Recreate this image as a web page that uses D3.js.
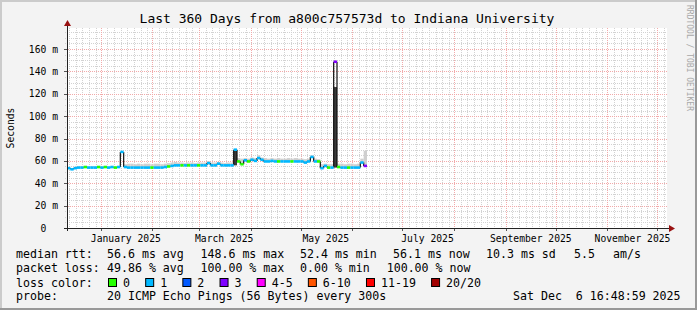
<!DOCTYPE html>
<html>
<head>
<meta charset="utf-8">
<script src="https://cdn.jsdelivr.net/npm/d3@7"></script>
<style>
    body { margin: 0; background: #f3f3f3; }
    svg text { font-family: "DejaVu Sans Mono", monospace; white-space: pre; }
</style>
</head>
<body>
<div id="chart"></div>
<script>
// Time range of the graph (UTC)
const startDate = new Date(Date.UTC(2024, 11, 11, 16, 48, 59));
const endDate = new Date(Date.UTC(2025, 11, 6, 16, 48, 59));
const stepDays = 2;

// Median rtt per 2-day step (ms)
const median = [
    53.5, 52.5, 53.5, 54, 54, 54.5, 54, 54, 54, 54.5,
    54, 54.5, 54, 54.5, 54, 54.5, 68, 54.5, 54, 54,
    54, 54, 54, 54, 54, 54, 54, 54, 54, 54.5,
    55, 55.5, 56, 56, 56, 56, 56, 56, 56, 56,
    56, 56, 58, 56, 56, 57.5, 56, 56, 56, 56,
    70, 59.5, 57, 60.5, 59.5, 61, 60, 62.5, 61, 59.5,
    59.5, 60, 59.5, 59.5, 59.5, 59.5, 59.5, 59.5, 59.5, 59.5,
    59.5, 58.5, 59.5, 63.5, 59.5, 59.5, 53.5, 55.5, 54, 54,
    148.6, 54.5, 54, 54, 54, 54, 54, 54, 58.5, 55.5
];

// Loss bucket per step (index into lossLabels)
const loss = [
    1, 1, 1, 1, 1, 0, 1, 1, 1, 0,
    1, 0, 1, 1, 0, 1, 1, 1, 1, 1,
    1, 1, 1, 1, 1, 0, 1, 1, 1, 1,
    0, 1, 1, 1, 0, 1, 0, 1, 1, 0,
    1, 1, 1, 1, 1, 1, 1, 1, 1, 1,
    1, 0, 0, 1, 0, 1, 1, 1, 1, 1,
    1, 1, 1, 0, 1, 1, 1, 0, 1, 1,
    1, 1, 1, 1, 1, 0, 1, 1, 0, 1,
    3, 0, 1, 1, 0, 1, 1, 1, 1, 3
];

// Upper edge of the light smoke (ms)
const smokeHi = [
    54.5, 53.5, 54.5, 55, 55, 55.5, 55, 55, 55, 55.5,
    55, 55.5, 55, 55.5, 55, 55.5, 68, 57, 57.5, 57.5,
    57, 57.5, 57, 57.5, 57.5, 57, 57.5, 57.5, 57, 57.5,
    58, 58.5, 59, 58.5, 58.5, 58, 58.5, 58.5, 58, 58.5,
    58.5, 58.5, 59.5, 58.5, 58.5, 59, 58.5, 58, 58.5, 58.5,
    70, 62.5, 62, 62.5, 62, 63, 62.5, 65, 63, 62.5,
    62, 62.5, 62, 62.5, 62, 62, 62.5, 62, 62.5, 62,
    62, 61.5, 62, 65, 62, 61.5, 57, 57.5, 57, 57,
    148.6, 57.5, 57.5, 57, 57.5, 57.5, 57, 57.5, 62, 69
];

// Dense (dark) smoke under the spikes
const darkIdx = [50, 80];
const darkLo = [56, 54];
const darkHi = [69, 126];

// Legend content
const lossLabels = ["0", "1", "2", "3", "4-5", "6-10", "11-19", "20/20"];
const lossColors = ["#26ff00", "#00b8ff", "#0059ff", "#7e00ff", "#ff00ff", "#ff5500", "#ff0000", "#a10000"];
const rttStats = ["56.6 ms avg", "148.6 ms max", "52.4 ms min", "56.1 ms now", "10.3 ms sd", "5.5", "am/s"];
const lossStats = ["49.86 % avg", "100.00 % max", "0.00 % min", "100.00 % now"];
const yTicks = [0, 20, 40, 60, 80, 100, 120, 140, 160];
const xLabels = ["January 2025", "March 2025", "May 2025", "July 2025", "September 2025", "November 2025"];
const xLabelMonths = [0, 2, 4, 6, 8, 10];

const W = 697, H = 310;
const plot = { left: 67, right: 667, top: 28, bottom: 228 };

const svg = d3.select("#chart").append("svg")
    .attr("width", W)
    .attr("height", H);

// Background + frame
svg.append("rect").attr("width", W).attr("height", H).attr("fill", "#f3f3f3");
svg.append("rect").attr("x", 0).attr("y", 0).attr("width", W).attr("height", 2).attr("fill", "#cbcbcb");
svg.append("rect").attr("x", 0).attr("y", 0).attr("width", 2).attr("height", H).attr("fill", "#cbcbcb");
svg.append("rect").attr("x", 0).attr("y", H - 2).attr("width", W).attr("height", 2).attr("fill", "#999");
svg.append("rect").attr("x", W - 2).attr("y", 0).attr("width", 2).attr("height", H).attr("fill", "#999");

// Scales
const x = d3.scaleUtc().domain([startDate, endDate]).range([plot.left, plot.right]);
const y = d3.scaleLinear().domain([0, 178.8]).range([plot.bottom, plot.top]);

svg.append("rect")
    .attr("x", plot.left).attr("y", plot.top)
    .attr("width", plot.right - plot.left).attr("height", plot.bottom - plot.top)
    .attr("fill", "#fff");

// Grid
const grid = svg.append("g").attr("shape-rendering", "crispEdges");
const minorDays = d3.utcDay.every(4).range(startDate, endDate).filter(d => d.getUTCDate() !== 1);
const months = d3.utcMonth.range(startDate, endDate);
const minorVals = d3.range(5, 178, 5).filter(v => v % 20 !== 0);
const majorVals = yTicks.filter(v => v > 0);

grid.selectAll(".vminor").data(minorDays).enter().append("line")
    .attr("x1", d => Math.round(x(d)) + 0.5).attr("x2", d => Math.round(x(d)) + 0.5)
    .attr("y1", plot.top).attr("y2", plot.bottom + 2)
    .attr("stroke", "#d2d2d2").attr("stroke-dasharray", "1,1");
grid.selectAll(".hminor").data(minorVals).enter().append("line")
    .attr("x1", plot.left - 2).attr("x2", plot.right)
    .attr("y1", d => Math.round(y(d)) + 0.5).attr("y2", d => Math.round(y(d)) + 0.5)
    .attr("stroke", "#d2d2d2").attr("stroke-dasharray", "1,1");
grid.selectAll(".vmajor").data(months).enter().append("line")
    .attr("x1", d => Math.round(x(d)) + 0.5).attr("x2", d => Math.round(x(d)) + 0.5)
    .attr("y1", plot.top).attr("y2", plot.bottom + 3)
    .attr("stroke", "#f2aaaa").attr("stroke-dasharray", "1,1");
grid.selectAll(".hmajor").data(majorVals).enter().append("line")
    .attr("x1", plot.left - 3).attr("x2", plot.right)
    .attr("y1", d => Math.round(y(d)) + 0.5).attr("y2", d => Math.round(y(d)) + 0.5)
    .attr("stroke", "#f2aaaa").attr("stroke-dasharray", "1,1");

// Small ticks outside the plot
grid.selectAll(".xt").data(months).enter().append("line")
    .attr("x1", d => Math.round(x(d)) + 0.5).attr("x2", d => Math.round(x(d)) + 0.5)
    .attr("y1", plot.bottom).attr("y2", plot.bottom + 3)
    .attr("stroke", "#555");
grid.selectAll(".yt").data(majorVals).enter().append("line")
    .attr("x1", plot.left - 3).attr("x2", plot.left)
    .attr("y1", d => Math.round(y(d)) + 0.5).attr("y2", d => Math.round(y(d)) + 0.5)
    .attr("stroke", "#555");

// Data
const times = median.map((_, i) => d3.utcDay.offset(startDate, stepDays * i));
const tEnd = i => d3.utcDay.offset(startDate, stepDays * (i + 1));

// Light smoke
svg.append("g").selectAll("rect").data(median).enter().append("rect")
    .attr("x", (d, i) => x(times[i]))
    .attr("width", (d, i) => x(tEnd(i)) - x(times[i]))
    .attr("y", (d, i) => y(smokeHi[i]))
    .attr("height", (d, i) => Math.max(0, y(d) - y(smokeHi[i])))
    .attr("fill", "#cfcfcf");

// Dark smoke
svg.append("g").selectAll("rect").data(darkIdx).enter().append("rect")
    .attr("x", d => x(times[d]))
    .attr("width", d => x(tEnd(d)) - x(times[d]))
    .attr("y", (d, k) => y(darkHi[k]))
    .attr("height", (d, k) => y(darkLo[k]) - y(darkHi[k]))
    .attr("fill", "#3a3a3a");

// Median step line, coloured by loss
const lineG = svg.append("g");
lineG.selectAll(".vstep").data(median.slice(1)).enter().append("line")
    .attr("x1", (d, i) => x(times[i + 1])).attr("x2", (d, i) => x(times[i + 1]))
    .attr("y1", (d, i) => y(median[i])).attr("y2", d => y(d))
    .attr("stroke", "#111").attr("stroke-width", 1.2);
lineG.selectAll(".hstep").data(median).enter().append("line")
    .attr("x1", (d, i) => x(times[i])).attr("x2", (d, i) => x(tEnd(i)))
    .attr("y1", d => y(d)).attr("y2", d => y(d))
    .attr("stroke", (d, i) => lossColors[loss[i]])
    .attr("stroke-width", 2.6);

// Axes
const axisG = svg.append("g").attr("shape-rendering", "crispEdges");
axisG.append("line")
    .attr("x1", plot.left - 3).attr("x2", plot.right + 4)
    .attr("y1", plot.bottom + 0.5).attr("y2", plot.bottom + 0.5)
    .attr("stroke", "#222");
axisG.append("line")
    .attr("x1", plot.left + 0.5).attr("x2", plot.left + 0.5)
    .attr("y1", plot.bottom + 3).attr("y2", plot.top - 3)
    .attr("stroke", "#222");
svg.append("path")
    .attr("d", `M${plot.right + 2},${plot.bottom - 3} L${plot.right + 8},${plot.bottom + 0.5} L${plot.right + 2},${plot.bottom + 4} Z`)
    .attr("fill", "#991111");
svg.append("path")
    .attr("d", `M${plot.left - 3},${plot.top - 2} L${plot.left + 0.5},${plot.top - 8} L${plot.left + 4},${plot.top - 2} Z`)
    .attr("fill", "#991111");

// Y labels
svg.append("g").selectAll("text").data(yTicks).enter().append("text")
    .attr("x", 58)
    .attr("y", d => y(d) + 3.5)
    .attr("text-anchor", "end")
    .attr("font-size", "9.7px")
    .text(d => d === 0 ? "0  " : `${d} m`);

// X labels, centred half a month after the month start
svg.append("g").selectAll("text").data(xLabels).enter().append("text")
    .attr("x", (d, i) => x(d3.utcDay.offset(new Date(Date.UTC(2025, xLabelMonths[i], 1)), 15)))
    .attr("y", 241.5)
    .attr("text-anchor", "middle")
    .attr("font-size", "9.7px")
    .text(d => d);

// Titles
svg.append("text")
    .attr("x", 347).attr("y", 23)
    .attr("text-anchor", "middle")
    .attr("font-size", "13px")
    .text("Last 360 Days from a800c757573d to Indiana University");

svg.append("text")
    .attr("transform", "translate(14,128) rotate(-90)")
    .attr("text-anchor", "middle")
    .attr("font-size", "9.7px")
    .text("Seconds");

svg.append("text")
    .attr("transform", "translate(689,58) rotate(90)")
    .attr("text-anchor", "middle")
    .attr("dominant-baseline", "central")
    .attr("font-size", "8px")
    .attr("fill", "#a8a8a8")
    .text("RRDTOOL / TOBI OETIKER");

// Legend
const leg = svg.append("g").attr("font-size", "11.6px");
const rttX = [107, 200.5, 300, 393, 486, 574, 613];
const lossX = [107, 200.5, 300, 386.7];

leg.append("text").attr("x", 16).attr("y", 258).text("median rtt:");
rttStats.forEach((s, i) => leg.append("text").attr("x", rttX[i]).attr("y", 258).text(s));
leg.append("text").attr("x", 16).attr("y", 272).text("packet loss:");
lossStats.forEach((s, i) => leg.append("text").attr("x", lossX[i]).attr("y", 272).text(s));
leg.append("text").attr("x", 16).attr("y", 286.5).text("loss color:");

let bx = 108.5;
lossLabels.forEach((lab, i) => {
    leg.append("rect")
        .attr("x", bx).attr("y", 278.5)
        .attr("width", 8).attr("height", 8)
        .attr("fill", lossColors[i])
        .attr("stroke", "#000");
    leg.append("text").attr("x", bx + 14.5).attr("y", 286.5).text(lab);
    bx += 14.5 + lab.length * 6.98 + 15.7;
});

leg.append("text").attr("x", 16).attr("y", 300).text("probe:");
leg.append("text").attr("x", 107).attr("y", 300).text("20 ICMP Echo Pings (56 Bytes) every 300s");
leg.append("text").attr("x", 513).attr("y", 300).text("Sat Dec  6 16:48:59 2025");
</script>
</body>
</html>
